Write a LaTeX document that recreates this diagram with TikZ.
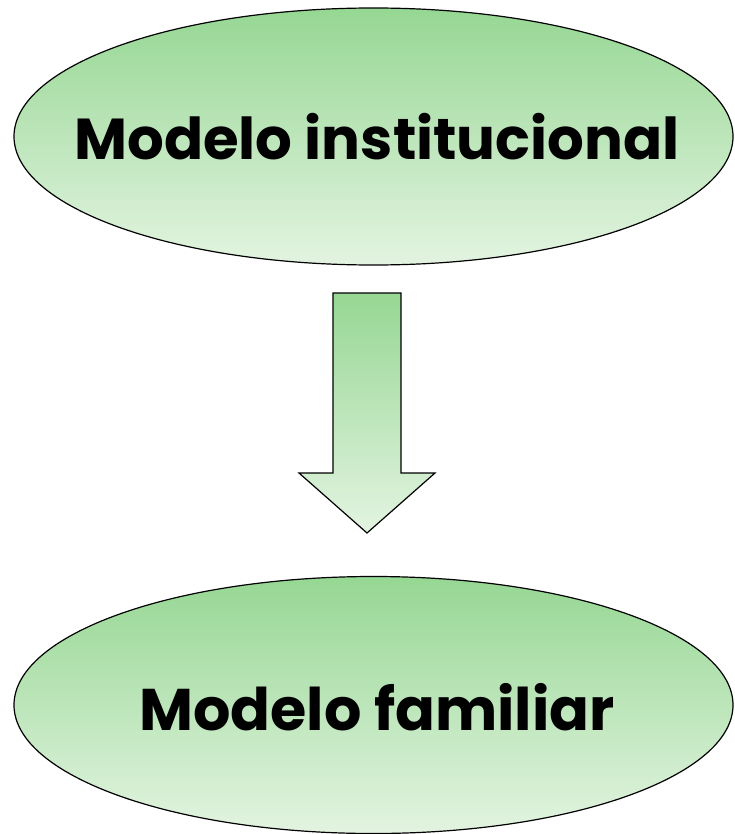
\documentclass[tikz,border=0pt]{standalone}
\usepackage{fontspec}
\newfontfamily\labelfont{Poppins}
\usetikzlibrary{shapes.geometric}
\definecolor{gtop}{HTML}{96D793}
\definecolor{gbot}{HTML}{E3F4E1}
\tikzset{
  bubble/.style={ellipse, draw=black, line width=1.2pt, top color=gtop, bottom color=gbot, minimum width=719pt, minimum height=257pt, inner sep=0pt},
  lbl/.style={font=\labelfont\bfseries, text=black, inner sep=0pt},
  bigarrow/.style={draw=black, line width=1.2pt, top color=gtop, bottom color=gbot}
}
\begin{document}
\begin{tikzpicture}[x=1pt,y=-1pt]
\useasboundingbox (0,0) rectangle (734,834);
\node[bubble] (inst) at (373.5,136.5) {};
\node[lbl] (instT) at (377,137) {\resizebox{605pt}{!}{Modelo institucional}};
\node[bubble] (fam) at (373.5,705) {};
\node[lbl] (famT) at (377,707) {\resizebox{475pt}{!}{Modelo familiar}};
\path[bigarrow] (333,293) -- (401,293) -- (401,473) -- (435,473) -- (367,533) -- (299,473) -- (333,473) -- cycle;
\end{tikzpicture}
\end{document}
